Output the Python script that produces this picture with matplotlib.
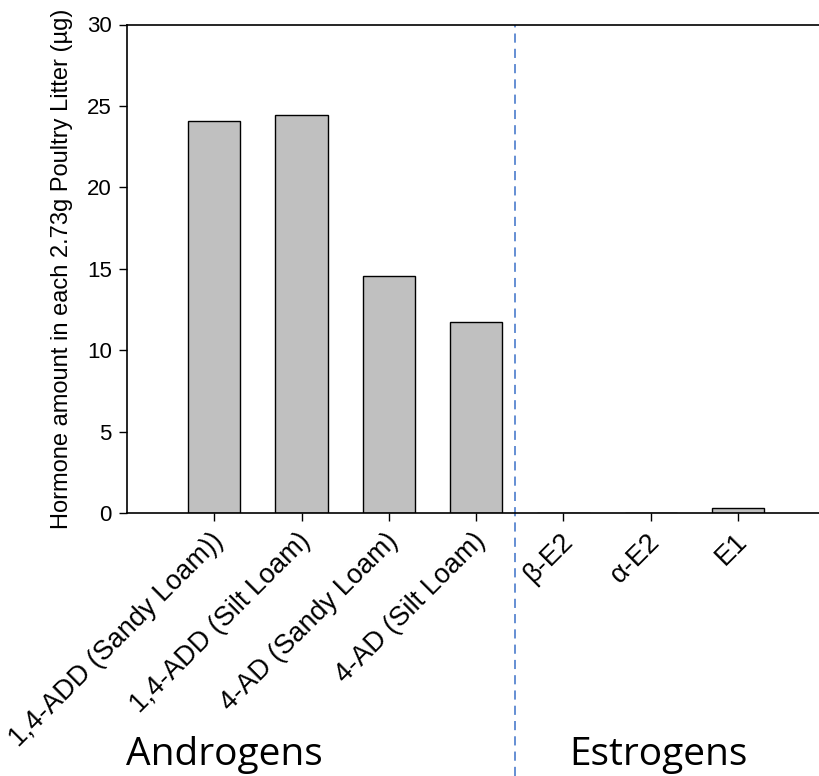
import matplotlib.pyplot as plt
import matplotlib.transforms as mtransforms
import numpy as np

# Hormone amounts (ug) per 2.73 g poultry litter
hormones = ['1,4-ADD (Sandy Loam))', '1,4-ADD (Silt Loam)', '4-AD (Sandy Loam)',
            '4-AD (Silt Loam)', 'β-E2', 'α-E2', 'E1']
amounts = [24.09, 24.44, 14.58, 11.74, 0.0, 0.0, 0.3]
groups = ['Androgens', 'Estrogens']


def make_plot():
    plt.rcParams['font.family'] = ['Liberation Sans', 'DejaVu Sans']
    fig = plt.figure(figsize=(8.2, 7.76), dpi=100)
    W, H = 820, 776
    # axes box in pixels: left 127, bottom spine at 513, top spine at 24.5
    ax = fig.add_axes([127 / W, (H - 513) / H, 698.4 / W, (513 - 24.5) / H])

    x = np.arange(1, len(hormones) + 1)
    ax.bar(x, amounts, 0.6, color='#c0c0c0', edgecolor='black', linewidth=1.0, zorder=2)

    ax.set_xlim(0, 8)
    ax.set_ylim(0, 30)
    ax.set_yticks(np.arange(0, 31, 5))
    ax.set_xticks(x)
    ax.set_xticklabels(hormones, rotation=45, ha='right', va='top', rotation_mode='anchor',
                       fontsize=19.5)
    ax.tick_params(axis='y', labelsize=16, length=6, width=1, direction='out', pad=5)
    ax.tick_params(axis='x', length=6, width=1, direction='out', pad=5)
    # nudge the slanted labels a little to the left
    shift = mtransforms.ScaledTranslation(-4 / 100, 0, fig.dpi_scale_trans)
    for lab in ax.get_xticklabels():
        lab.set_transform(lab.get_transform() + shift)
    ax.spines['right'].set_visible(False)
    for s in ['left', 'bottom', 'top']:
        ax.spines[s].set_linewidth(1.2)

    ax.set_ylabel('Hormone amount in each 2.73g Poultry Litter (µg)', fontsize=17, labelpad=10)

    # dashed divider between androgens and estrogens, running to the figure bottom
    trans = mtransforms.blended_transform_factory(ax.transData, fig.transFigure)
    ax.plot([4.44, 4.44], [0, 1 - 24.5 / H], transform=trans, clip_on=False,
            color='#3a70c8', linestyle=(0, (6, 4)), linewidth=1.1)

    fig.text(224 / W, (H - 765) / H, groups[0], fontsize=28, family='Open Sans',
             ha='center', va='baseline')
    fig.text(658 / W, (H - 765) / H, groups[1], fontsize=28, family='Open Sans',
             ha='center', va='baseline')

    fig.savefig('out.png', dpi=100)


if __name__ == '__main__':
    make_plot()
